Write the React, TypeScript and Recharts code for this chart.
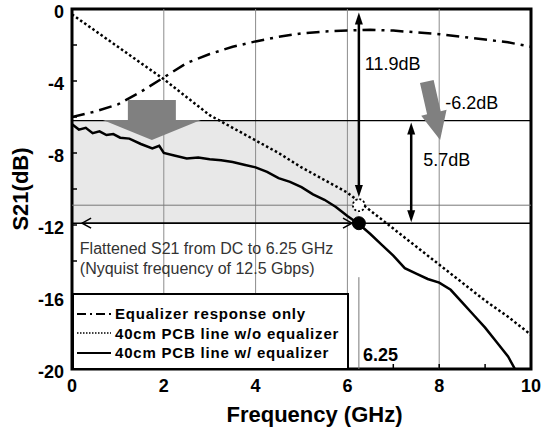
import React from "react";
import {
  ComposedChart,
  Line,
  XAxis,
  YAxis,
  ReferenceLine,
  ReferenceArea,
  ReferenceDot,
  Legend,
} from "recharts";

// values (GHz, dB)
const eqFreq = [0, 0.5, 1, 1.5, 2, 2.5, 3, 3.5, 4, 4.5, 5, 5.5, 6, 6.5, 7, 7.5, 8, 8.5, 9, 9.5, 10];
const eqDb = [-6.0, -5.7, -5.3, -4.6, -3.8, -3.0, -2.5, -2.1, -1.8, -1.55, -1.35, -1.25, -1.2, -1.15, -1.2, -1.3, -1.4, -1.55, -1.7, -1.85, -2.1];

const pcbFreq = [0, 0.5, 1, 1.5, 2, 2.5, 3, 3.5, 4, 4.5, 5, 5.5, 6, 6.5, 7, 7.5, 8, 8.5, 9, 9.5, 10];
const pcbDb = [-0.3, -1.2, -2.1, -3.0, -3.9, -4.9, -5.9, -6.6, -7.3, -8.0, -8.8, -9.5, -10.2, -11.2, -12.2, -13.2, -14.2, -15.2, -16.2, -17.1, -18.1];

const eqPcbFreq = [0, 0.15, 0.3, 0.45, 0.6, 0.75, 0.9, 1.05, 1.25, 1.5, 1.75, 1.9, 2.0, 2.25, 2.5, 2.75, 3.0, 3.25, 3.5, 3.75, 4.0, 4.25, 4.5, 4.75, 5.0, 5.25, 5.5, 5.75, 6.0, 6.25, 6.5, 6.75, 7.0, 7.25, 7.5, 7.75, 8.0, 8.25, 8.5, 8.75, 9.0, 9.25, 9.5, 9.65];
const eqPcbDb = [-6.4, -6.7, -6.6, -6.9, -6.8, -7.0, -6.95, -7.15, -7.2, -7.5, -7.75, -7.6, -8.0, -8.15, -8.3, -8.25, -8.35, -8.4, -8.5, -8.65, -8.8, -9.05, -9.4, -9.6, -9.9, -10.3, -10.6, -11.0, -11.5, -11.95, -12.5, -13.1, -13.7, -14.4, -14.7, -15.0, -15.2, -15.6, -16.3, -17.0, -17.7, -18.5, -19.3, -20.0];

const xTicks = [0, 1, 2, 3, 4, 5, 6, 7, 8, 9, 10];
const yTicks = [-20, -18, -16, -14, -12, -10, -8, -6, -4, -2, 0];
const gridX = [2, 4, 6, 8];

const eqData = eqFreq.map((f, i) => ({ x: f, y: eqDb[i] }));
const pcbData = pcbFreq.map((f, i) => ({ x: f, y: pcbDb[i] }));
const eqPcbData = eqPcbFreq.map((f, i) => ({ x: f, y: eqPcbDb[i] }));

const FONT = "'Liberation Sans', Arial, sans-serif";

const XTick = (p: any) => {
  const { x, y, payload } = p;
  const v = payload.value;
  return (
    <g>
      <line x1={x} y1={y} x2={x} y2={y - 5} stroke="#000" strokeWidth={1.5} />
      {v % 2 === 0 && (
        <text x={x} y={y + 23} textAnchor="middle" fontFamily={FONT} fontWeight="bold" fontSize={18} fill="#000">
          {v}
        </text>
      )}
    </g>
  );
};

const YTick = (p: any) => {
  const { x, y, payload } = p;
  const v = payload.value;
  return (
    <g>
      <line x1={x} y1={y} x2={x + 5} y2={y} stroke="#000" strokeWidth={1.5} />
      {v % 4 === 0 && (
        <text x={x - 8} y={y + 9} textAnchor="end" fontFamily={FONT} fontWeight="bold" fontSize={18} fill="#000">
          {v}
        </text>
      )}
    </g>
  );
};

// vertical line with filled arrow heads at both ends
const vArrow = (p: any) => {
  const { x1, y1, x2, y2 } = p;
  const top = Math.min(y1, y2);
  const bot = Math.max(y1, y2);
  return (
    <g>
      <line x1={x1} y1={top + 8} x2={x2} y2={bot - 8} stroke="#000" strokeWidth={2.5} />
      <polygon points={`${x1},${top} ${x1 - 4},${top + 12} ${x1 + 4},${top + 12}`} fill="#000" />
      <polygon points={`${x2},${bot} ${x2 - 4},${bot - 12} ${x2 + 4},${bot - 12}`} fill="#000" />
    </g>
  );
};

// open chevron heads on a horizontal line
const hArrow = (p: any) => {
  const { x1, y1, x2 } = p;
  const l = Math.min(x1, x2);
  const r = Math.max(x1, x2);
  return (
    <g fill="none" stroke="#000" strokeWidth={1.5}>
      <line x1={l} y1={y1} x2={r} y2={y1} />
      <polyline points={`${l + 9},${y1 - 5} ${l},${y1} ${l + 9},${y1 + 5}`} />
      <polyline points={`${r - 9},${y1 - 5} ${r},${y1} ${r - 9},${y1 + 5}`} />
    </g>
  );
};

const downArrow = (p: any) => {
  const { cx, cy } = p;
  return (
    <polygon
      fill="#808080"
      points={`${cx},${cy} ${cx - 49},${cy - 20} ${cx - 24},${cy - 20} ${cx - 24},${cy - 40} ${cx + 24},${cy - 40} ${cx + 24},${cy - 20} ${cx + 49},${cy - 20}`}
    />
  );
};

const slantArrow = (p: any) => {
  const { cx, cy } = p;
  const dx = 0.222;
  const dy = 0.975;
  const nx = -dy;
  const ny = dx;
  const len = 60;
  const head = 28;
  const sw = 7;
  const hw = 13;
  const pt = (a: number, b: number) => `${cx - dx * a + nx * b},${cy - dy * a + ny * b}`;
  return (
    <polygon
      fill="#808080"
      points={[pt(0, 0), pt(head, hw), pt(head, sw), pt(len, sw), pt(len, -sw), pt(head, -sw), pt(head, -hw)].join(" ")}
    />
  );
};

const note = (txt: string, size: number, bold = false, color = "#000") => (p: any) => (
  <text x={p.cx} y={p.cy} fontFamily={FONT} fontSize={size} fontWeight={bold ? "bold" : "normal"} fill={color}>
    {txt}
  </text>
);

const legendRows = [
  { label: "Equalizer response only", dash: "9 4 2 4" },
  { label: "40cm PCB line w/o equalizer", dash: "1.5 1.5" },
  { label: "40cm PCB line w/ equalizer", dash: "" },
];

const LegendBox = () => (
  <div
    style={{
      boxSizing: "border-box",
      width: 277,
      height: 77,
      border: "2.5px solid #000",
      background: "#fff",
      paddingTop: 9,
      fontFamily: FONT,
    }}
  >
    {legendRows.map((r) => (
      <div key={r.label} style={{ display: "flex", alignItems: "center", height: 19.5 }}>
        <svg width={40} height={10} style={{ marginLeft: 1 }}>
          <line x1={2} y1={5} x2={36} y2={5} stroke="#000" strokeWidth={r.dash === "1.5 1.5" ? 1.5 : 2} strokeDasharray={r.dash} />
        </svg>
        <span style={{ fontSize: 15, fontWeight: "bold", letterSpacing: 0.8, color: "#000", whiteSpace: "nowrap" }}>{r.label}</span>
      </div>
    ))}
  </div>
);

export default function App() {
  return (
    <div style={{ position: "absolute", left: 0, top: 0, width: 544, height: 427, background: "#fff" }}>
      <ComposedChart width={544} height={427} margin={{ top: 9, right: 13, left: 0, bottom: 0 }}>
        <XAxis
          type="number"
          dataKey="x"
          domain={[0, 10]}
          ticks={xTicks}
          interval={0}
          allowDataOverflow
          axisLine={false}
          tickLine={false}
          tickSize={0}
          tickMargin={0}
          height={58}
          tick={<XTick />}
          label={{ value: "Frequency (GHz)", position: "insideBottom", offset: 5, dx: 13, style: { fontFamily: FONT, fontWeight: "bold", fontSize: 22, fill: "#000" } }}
        />
        <YAxis
          type="number"
          dataKey="y"
          domain={[-20, 0]}
          ticks={yTicks}
          interval={0}
          allowDataOverflow
          axisLine={false}
          tickLine={false}
          tickSize={0}
          tickMargin={0}
          width={72}
          tick={<YTick />}
          label={{ value: "S21(dB)", angle: -90, position: "center", dx: -16, style: { fontFamily: FONT, fontWeight: "bold", fontSize: 22, fill: "#000" } }}
        />
        <ReferenceArea x1={0} x2={6.25} y1={-11.9} y2={-6.2} fill="#e8e8e8" fillOpacity={1} stroke="none" />
        {gridX.map((g) => (
          <ReferenceLine key={g} x={g} stroke="#8c8c8c" strokeWidth={1} />
        ))}
        <ReferenceLine segment={[{ x: 6.25, y: -14.9 }, { x: 6.25, y: -20 }]} stroke="#777" strokeWidth={1} />
        <ReferenceLine y={-6.2} stroke="#000" strokeWidth={1.2} />
        <ReferenceLine y={-10.9} stroke="#777" strokeWidth={1} />
        <ReferenceLine y={-11.9} stroke="#000" strokeWidth={1.5} />

        <Line data={eqData} dataKey="y" type="linear" stroke="#000" strokeWidth={2.5} strokeDasharray="13 6 3 6" dot={false} isAnimationActive={false} legendType="none" />
        <Line data={pcbData} dataKey="y" type="linear" stroke="#000" strokeWidth={2.5} strokeDasharray="2.5 2.5" dot={false} isAnimationActive={false} legendType="none" />
        <Line data={eqPcbData} dataKey="y" type="linear" stroke="#000" strokeWidth={2.5} dot={false} isAnimationActive={false} legendType="none" />

        <ReferenceLine segment={[{ x: 6.25, y: -0.2 }, { x: 6.25, y: -10.45 }]} shape={vArrow} />
        <ReferenceLine segment={[{ x: 7.39, y: -6.3 }, { x: 7.39, y: -11.85 }]} shape={vArrow} />
        <ReferenceLine segment={[{ x: 0.22, y: -11.9 }, { x: 6.1, y: -11.9 }]} shape={hArrow} />

        <ReferenceDot x={6.25} y={-10.9} r={6} fill="#fff" stroke="#000" strokeWidth={1.8} strokeDasharray="2 2" />
        <ReferenceDot x={6.25} y={-11.9} r={6.5} fill="#000" stroke="#000" />

        <ReferenceDot x={1.74} y={-7.28} r={0} shape={downArrow} />
        <ReferenceDot x={8.02} y={-7.28} r={0} shape={slantArrow} />

        <ReferenceDot x={6.38} y={-3.39} r={0} shape={note("11.9dB", 18)} />
        <ReferenceDot x={8.13} y={-5.56} r={0} shape={note("-6.2dB", 18)} />
        <ReferenceDot x={7.65} y={-8.72} r={0} shape={note("5.7dB", 18)} />
        <ReferenceDot x={0.17} y={-13.6} r={0} shape={note("Flattened S21 from DC to 6.25 GHz", 16, false, "#333")} />
        <ReferenceDot x={0.17} y={-14.72} r={0} shape={note("(Nyquist frequency of 12.5 Gbps)", 16, false, "#333")} />
        <ReferenceDot x={6.34} y={-19.56} r={0} shape={note("6.25", 18, true)} />

        <ReferenceArea x1={0} x2={10} y1={-20} y2={0} fill="none" stroke="#000" strokeWidth={3} />

        <Legend
          layout="vertical"
          align="center"
          verticalAlign="middle"
          wrapperStyle={{ left: 72, top: 293, width: 277, height: 77 }}
          content={<LegendBox />}
        />
      </ComposedChart>
    </div>
  );
}
